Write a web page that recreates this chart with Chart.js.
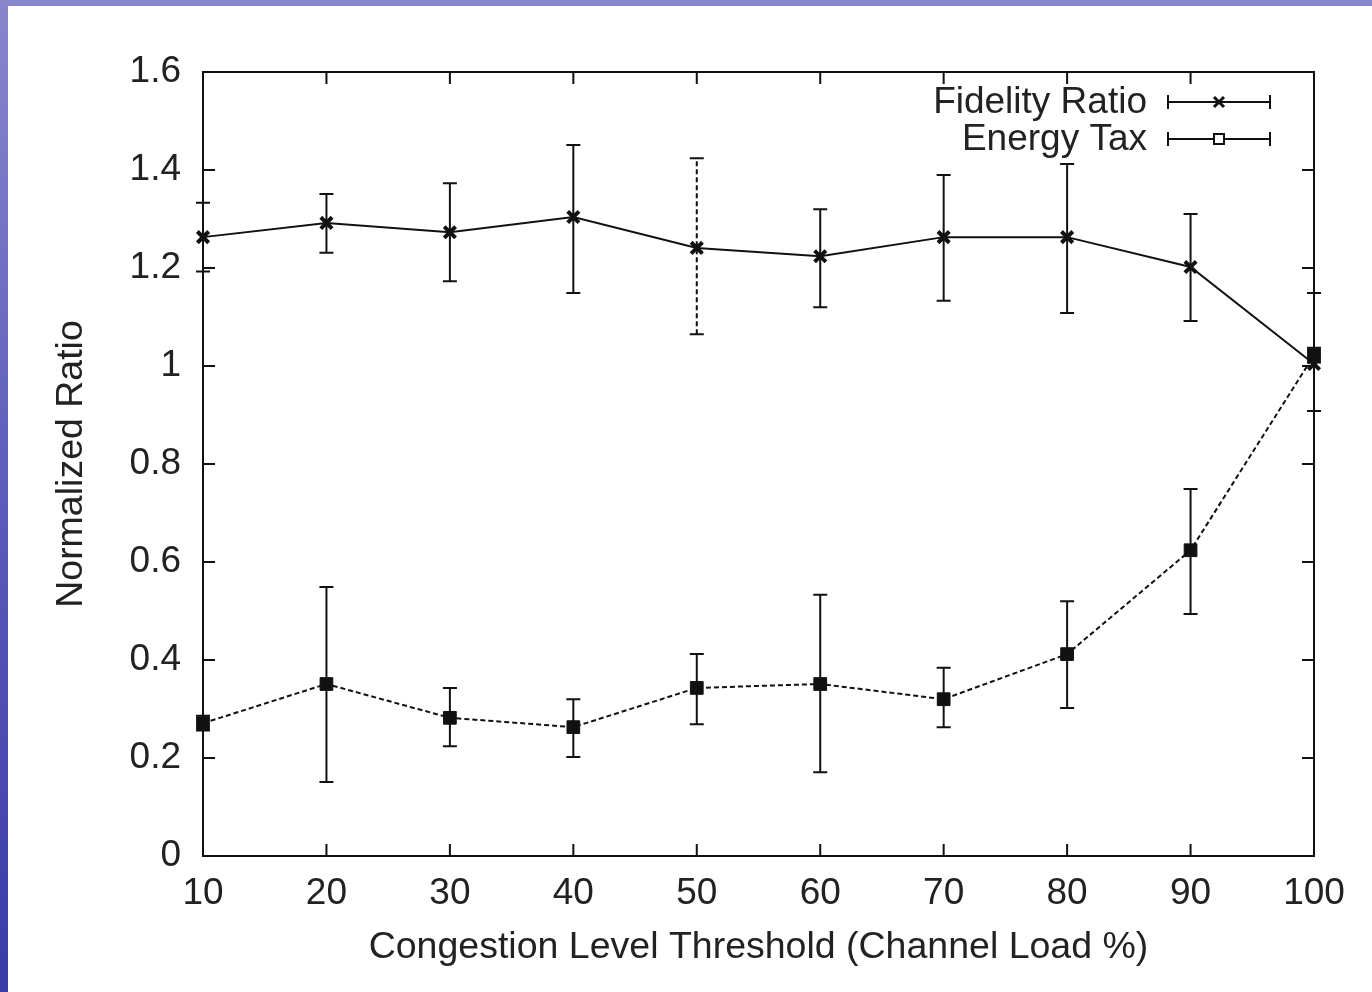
<!DOCTYPE html>
<html>
<head>
<meta charset="utf-8">
<script src="https://cdn.jsdelivr.net/npm/chart.js@4.4.0/dist/chart.umd.min.js"></script>
<style>
  html, body { margin: 0; padding: 0; }
  body {
    width: 1372px; height: 992px; overflow: hidden; position: relative;
    background: linear-gradient(180deg, #8a86cc 0%, #5c5cba 50%, #3a3aa8 100%);
  }
  .paper { position: absolute; left: 8px; top: 6px; right: 0; bottom: 0; background: #fff; }
  .wrap { position: absolute; left: 0; top: 0; width: 1372px; height: 992px; }
</style>
</head>
<body>
<div class="paper"></div>
<div class="wrap"><canvas id="myChart" width="1372" height="992"></canvas></div>
<script>
const thresholds = [10, 20, 30, 40, 50, 60, 70, 80, 90, 100];

const fidelity =    [1.263, 1.292, 1.273, 1.304, 1.241, 1.224, 1.263, 1.263, 1.202, 1.004];
const fidelityLow = [1.193, 1.231, 1.173, 1.149, 1.065, 1.120, 1.133, 1.108, 1.092, 0.908];
const fidelityHigh= [1.333, 1.351, 1.373, 1.451, 1.424, 1.320, 1.390, 1.412, 1.310, 1.149];

const energy =      [0.271, 0.351, 0.282, 0.263, 0.343, 0.351, 0.320, 0.412, 0.624, 1.022];
const energyLow =   [0.256, 0.151, 0.224, 0.202, 0.269, 0.171, 0.263, 0.302, 0.494, 1.007];
const energyHigh =  [0.286, 0.549, 0.343, 0.320, 0.412, 0.533, 0.384, 0.520, 0.749, 1.037];

const xTicks = [10, 20, 30, 40, 50, 60, 70, 80, 90, 100];
const yTicks = [0, 0.2, 0.4, 0.6, 0.8, 1, 1.2, 1.4, 1.6];

const ink = '#111';
const fontFam = '"Liberation Sans", Arial, Helvetica, sans-serif';

const toPoints = (ys) => thresholds.map((x, i) => ({x: x, y: ys[i]}));

// error bars, axis box with inward ticks, gnuplot style key
const gnuplotBits = {
  id: 'gnuplotBits',
  afterDatasetsDraw(chart) {
    const ctx = chart.ctx;
    const xs = chart.scales.x, ys = chart.scales.y;
    const area = chart.chartArea;
    ctx.save();
    ctx.strokeStyle = ink;
    ctx.lineWidth = 2;

    chart.data.datasets.forEach((ds) => {
      ds.errLow.forEach((lo, i) => {
        const px = xs.getPixelForValue(thresholds[i]);
        const pLo = ys.getPixelForValue(lo);
        const pHi = ys.getPixelForValue(ds.errHigh[i]);
        ctx.setLineDash(ds.errDash && ds.errDash[i] ? [5, 3] : []);
        ctx.beginPath();
        ctx.moveTo(px, pLo); ctx.lineTo(px, pHi);
        ctx.stroke();
        ctx.setLineDash([]);
        ctx.beginPath();
        ctx.moveTo(px - 7, pLo); ctx.lineTo(px + 7, pLo);
        ctx.moveTo(px - 7, pHi); ctx.lineTo(px + 7, pHi);
        ctx.stroke();
      });
    });

    // frame
    ctx.setLineDash([]);
    ctx.strokeRect(area.left, area.top, area.right - area.left, area.bottom - area.top);
    const tl = 12;
    ctx.beginPath();
    yTicks.forEach((v) => {
      const py = ys.getPixelForValue(v);
      ctx.moveTo(area.left, py); ctx.lineTo(area.left + tl, py);
      ctx.moveTo(area.right, py); ctx.lineTo(area.right - tl, py);
    });
    xTicks.forEach((v) => {
      const px = xs.getPixelForValue(v);
      ctx.moveTo(px, area.bottom); ctx.lineTo(px, area.bottom - tl);
      ctx.moveTo(px, area.top); ctx.lineTo(px, area.top + tl);
    });
    ctx.stroke();

    // key
    ctx.font = '37px ' + fontFam;
    ctx.fillStyle = '#222';
    ctx.textAlign = 'right';
    ctx.textBaseline = 'middle';
    const keyRows = [102, 139];
    chart.data.datasets.forEach((ds, k) => {
      const ky = keyRows[k];
      ctx.fillText(ds.label, 1147, ky + 1);
      ctx.strokeStyle = ink;
      ctx.lineWidth = 2;
      ctx.beginPath();
      ctx.moveTo(1168, ky); ctx.lineTo(1270, ky);
      ctx.moveTo(1168, ky - 7); ctx.lineTo(1168, ky + 7);
      ctx.moveTo(1270, ky - 7); ctx.lineTo(1270, ky + 7);
      ctx.stroke();
      if (k === 0) {
        ctx.lineWidth = 3;
        ctx.beginPath();
        ctx.moveTo(1214, ky - 5); ctx.lineTo(1224, ky + 5);
        ctx.moveTo(1214, ky + 5); ctx.lineTo(1224, ky - 5);
        ctx.stroke();
      } else {
        ctx.fillStyle = '#fff';
        ctx.fillRect(1214, ky - 5, 10, 10);
        ctx.strokeRect(1214, ky - 5, 10, 10);
        ctx.fillStyle = '#222';
      }
    });
    ctx.restore();
  }
};

const config = {
  type: 'line',
  data: {
    datasets: [
      {
        label: 'Fidelity Ratio',
        data: toPoints(fidelity),
        errLow: fidelityLow,
        errHigh: fidelityHigh,
        errDash: [false, false, false, false, true, false, false, false, false, false],
        borderColor: ink,
        borderWidth: 2,
        pointStyle: 'crossRot',
        pointRadius: 8,
        pointBorderWidth: 4,
        pointBorderColor: ink,
        pointBackgroundColor: ink,
        tension: 0,
        clip: false
      },
      {
        label: 'Energy Tax',
        data: toPoints(energy),
        errLow: energyLow,
        errHigh: energyHigh,
        borderColor: ink,
        borderWidth: 2,
        borderDash: [5, 3],
        pointStyle: 'rect',
        pointRadius: 9,
        pointBorderWidth: 1,
        pointBorderColor: ink,
        pointBackgroundColor: ink,
        tension: 0,
        clip: false
      }
    ]
  },
  options: {
    responsive: false,
    animation: false,
    layout: { padding: { left: 0, right: 58, top: 72, bottom: 0 } },
    scales: {
      x: {
        type: 'linear',
        min: 10, max: 100,
        afterFit: (s) => { s.height = 136; },
        afterBuildTicks: (s) => { s.ticks = xTicks.map((v) => ({value: v})); },
        grid: { display: false, drawTicks: false },
        border: { display: false },
        ticks: {
          color: '#222', padding: 16,
          font: { family: fontFam, size: 37 },
          callback: (v) => String(v)
        },
        title: {
          display: true,
          text: 'Congestion Level Threshold (Channel Load %)',
          color: '#222',
          font: { family: fontFam, size: 37.5 },
          padding: { top: 0, bottom: 22 }
        }
      },
      y: {
        min: 0, max: 1.6,
        afterFit: (s) => { s.width = 203; },
        afterBuildTicks: (s) => { s.ticks = yTicks.map((v) => ({value: v})); },
        grid: { display: false, drawTicks: false },
        border: { display: false },
        ticks: {
          color: '#222', padding: 22,
          font: { family: fontFam, size: 37 },
          callback: (v) => String(+v.toFixed(1))
        },
        title: {
          display: true,
          text: 'Normalized Ratio',
          color: '#222',
          font: { family: fontFam, size: 37.5 },
          padding: { top: 49, bottom: 0 }
        }
      }
    },
    plugins: {
      legend: { display: false },
      tooltip: { enabled: false }
    }
  },
  plugins: [gnuplotBits]
};

const myChart = new Chart(document.getElementById('myChart'), config);
</script>
</body>
</html>
